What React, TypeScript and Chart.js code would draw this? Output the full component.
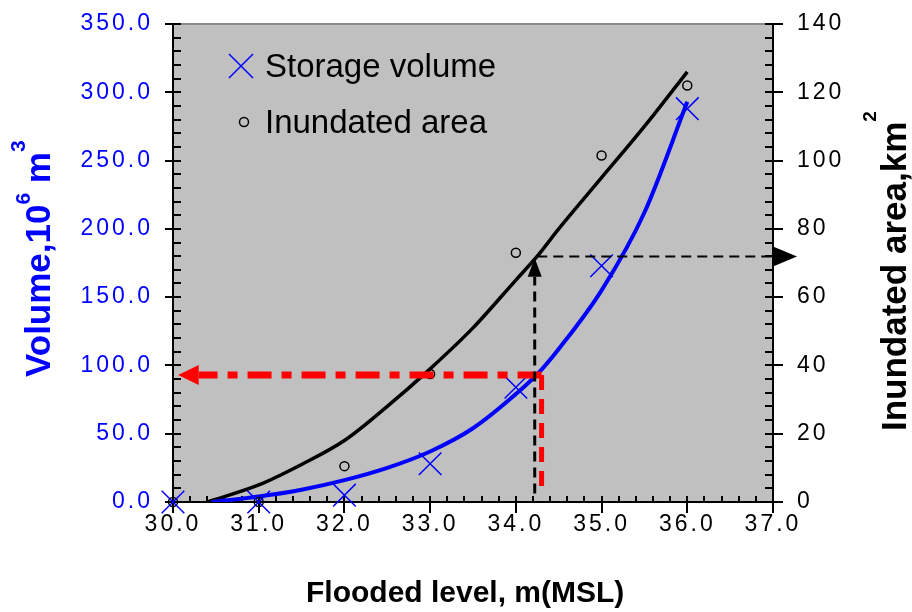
import React, { useEffect, useRef } from 'react';
import { Chart, registerables } from 'chart.js';

Chart.register(...registerables);

const FONT = '"Liberation Sans", Arial, sans-serif';

// Observed points
const levels = [30, 31, 32, 33, 34, 35, 36];
const storageVolume = [0, 0, 5, 28, 84, 173, 288];
const inundatedArea = [0, 0, 10.5, 37.5, 73, 101.5, 122];

// Fitted curves
const volumeFitLevels = [30.45, 31, 31.5, 32, 32.5, 33, 33.5, 34, 34.3, 34.5, 35, 35.5, 36];
const volumeFit = [0, 4, 9, 16, 25, 37, 54, 79, 97, 112, 155, 212, 293];
const areaFitLevels = [30.4, 31, 31.5, 32, 32.5, 33, 33.5, 34, 34.25, 34.5, 35, 35.5, 36];
const areaFit = [0, 5, 11, 18, 28, 39, 51, 65, 72, 80, 95, 110, 126];

// Reading guides
const redGuideLevels = [30.3, 34.3];
const redGuideVolume = 93;
const redDropLevel = 34.3;
const redDropVolumes = [93, 11];
const blackRiseLevel = 34.22;
const blackRiseAreas = [2.5, 66];
const blackRiseTip = 71.5;
const blackGuideLevels = [34.25, 37];
const blackGuideArea = 71.9;
const redArrowTip = 30.06;
const rightArrowTip = 37.28;

// Axis ranges / ticks
const levelMin = 30, levelMax = 37, levelStep = 1, levelMinor = 0.2;
const volumeMin = 0, volumeMax = 350, volumeStep = 50, volumeMinor = 10;
const areaMin = 0, areaMax = 140, areaStep = 20, areaMinor = 4;

const BLUE = '#0000ff';
const RED = '#ff0000';

const pts = (xs: number[], ys: number[]) => xs.map((x, i) => ({ x, y: ys[i] }));

function drawRich(ctx: CanvasRenderingContext2D, parts: { t: string; sup?: boolean; raise?: number }[], base: number, sup: number) {
  let cx = 0;
  for (const p of parts) {
    ctx.font = `bold ${p.sup ? sup : base}px ${FONT}`;
    ctx.fillText(p.t, cx, p.sup ? -(p.raise || 0) : 0);
    cx += ctx.measureText(p.t).width;
  }
}

const decor = {
  id: 'decor',
  beforeDraw(chart: any) {
    const { ctx, chartArea: a } = chart;
    ctx.save();
    ctx.fillStyle = '#ffffff';
    ctx.fillRect(0, 0, chart.width, chart.height);
    ctx.fillStyle = '#c0c0c0';
    ctx.fillRect(a.left, a.top, a.right - a.left, a.bottom - a.top);
    ctx.restore();
    (ctx as any).letterSpacing = '3px';
  },
  beforeDatasetsDraw(chart: any) {
    const { ctx, chartArea: a, scales } = chart;
    (ctx as any).letterSpacing = '0px';
    const x = scales.x, y = scales.y, y1 = scales.y1;
    ctx.save();
    ctx.strokeStyle = '#8a8a8a';
    ctx.lineWidth = 2;
    ctx.beginPath();
    ctx.moveTo(a.left, a.top);
    ctx.lineTo(a.right, a.top);
    ctx.stroke();
    ctx.strokeStyle = '#000';
    ctx.lineWidth = 2;
    ctx.beginPath();
    ctx.moveTo(a.left, a.top);
    ctx.lineTo(a.left, a.bottom);
    ctx.lineTo(a.right, a.bottom);
    ctx.moveTo(a.right, a.top);
    ctx.lineTo(a.right, a.bottom);
    ctx.stroke();
    ctx.beginPath();
    for (let v = volumeMin; v <= volumeMax + 1e-6; v += volumeMinor) {
      const py = Math.round(y.getPixelForValue(v));
      const major = Math.abs(v % volumeStep) < 1e-6;
      ctx.moveTo(a.left - (major ? 8 : 0), py);
      ctx.lineTo(a.left + 8, py);
    }
    for (let v = areaMin; v <= areaMax + 1e-6; v += areaMinor) {
      const py = Math.round(y1.getPixelForValue(v));
      const major = Math.abs(v % areaStep) < 1e-6;
      ctx.moveTo(a.right - 8, py);
      ctx.lineTo(a.right + (major ? 10 : 0), py);
    }
    for (let i = 0; i <= Math.round((levelMax - levelMin) / levelMinor); i++) {
      const v = levelMin + i * levelMinor;
      const px = Math.round(x.getPixelForValue(v));
      const major = i % Math.round(levelStep / levelMinor) === 0;
      ctx.moveTo(px, a.bottom - 6);
      ctx.lineTo(px, a.bottom + (major ? 11 : 0));
    }
    ctx.stroke();
    ctx.restore();
  },
  afterDatasetsDraw(chart: any) {
    const { ctx, scales } = chart;
    const x = scales.x, y = scales.y, y1 = scales.y1;
    ctx.save();
    const ry = y.getPixelForValue(redGuideVolume);
    const rTip = x.getPixelForValue(redArrowTip);
    const rBase = x.getPixelForValue(redGuideLevels[0]);
    ctx.fillStyle = RED;
    ctx.beginPath();
    ctx.moveTo(rTip, ry);
    ctx.lineTo(rBase, ry - 10);
    ctx.lineTo(rBase, ry + 10);
    ctx.closePath();
    ctx.fill();
    const bx = x.getPixelForValue(blackRiseLevel);
    const bTip = y1.getPixelForValue(blackRiseTip);
    const bBase = y1.getPixelForValue(blackRiseAreas[1]);
    ctx.fillStyle = '#000';
    ctx.beginPath();
    ctx.moveTo(bx, bTip);
    ctx.lineTo(bx - 7, bBase);
    ctx.lineTo(bx + 7, bBase);
    ctx.closePath();
    ctx.fill();
    const hy = y1.getPixelForValue(blackGuideArea);
    const hTip = x.getPixelForValue(rightArrowTip);
    const hBase = x.getPixelForValue(blackGuideLevels[1]);
    ctx.beginPath();
    ctx.moveTo(hTip, hy);
    ctx.lineTo(hBase, hy - 10);
    ctx.lineTo(hBase, hy + 10);
    ctx.closePath();
    ctx.fill();
    ctx.restore();
  },
  afterDraw(chart: any) {
    const { ctx } = chart;
    ctx.save();
    (ctx as any).letterSpacing = '0px';
    ctx.strokeStyle = BLUE;
    ctx.lineWidth = 1.5;
    ctx.beginPath();
    ctx.moveTo(229, 54); ctx.lineTo(253, 78);
    ctx.moveTo(253, 54); ctx.lineTo(229, 78);
    ctx.stroke();
    ctx.strokeStyle = '#000';
    ctx.beginPath();
    ctx.arc(244, 122, 4.5, 0, Math.PI * 2);
    ctx.stroke();
    ctx.fillStyle = '#000';
    ctx.font = `33px ${FONT}`;
    ctx.textBaseline = 'alphabetic';
    ctx.textAlign = 'left';
    ctx.fillText('Storage volume', 265, 77);
    ctx.fillText('Inundated area', 265, 133);

    ctx.font = `bold 30px ${FONT}`;
    ctx.fillText('Flooded level, m(MSL)', 306, 602);

    ctx.save();
    ctx.translate(50, 377);
    ctx.rotate(-Math.PI / 2);
    ctx.fillStyle = BLUE;
    drawRich(ctx, [
      { t: 'Volume,10' },
      { t: '6', sup: true, raise: 20 },
      { t: ' m' },
      { t: '3', sup: true, raise: 25 },
    ], 35, 21);
    ctx.restore();

    ctx.save();
    ctx.translate(906, 431);
    ctx.rotate(-Math.PI / 2);
    ctx.fillStyle = '#000';
    drawRich(ctx, [
      { t: 'Inundated area,km' },
      { t: '2', sup: true, raise: 30 },
    ], 35, 19);
    ctx.restore();
    ctx.restore();
  },
};

export default function App() {
  const ref = useRef<HTMLCanvasElement>(null);
  useEffect(() => {
    const canvas = ref.current!;
    const chart = new Chart(canvas, {
      type: 'line',
      data: {
        datasets: [
          {
            label: 'guide-black-rise',
            data: [{ x: blackRiseLevel, y: blackRiseAreas[0] }, { x: blackRiseLevel, y: blackRiseAreas[1] }],
            yAxisID: 'y1',
            borderColor: '#000',
            borderWidth: 3,
            borderDash: [10, 6],
            pointRadius: 0,
          },
          {
            label: 'guide-black-across',
            data: blackGuideLevels.map((l) => ({ x: l, y: blackGuideArea })),
            yAxisID: 'y1',
            borderColor: '#000',
            borderWidth: 2,
            borderDash: [10, 6],
            pointRadius: 0,
          },
          {
            label: 'guide-red-across',
            data: redGuideLevels.map((l) => ({ x: l, y: redGuideVolume })).reverse(),
            yAxisID: 'y',
            borderColor: RED,
            borderWidth: 7,
            borderDash: [24, 10, 10, 10],
            pointRadius: 0,
          },
          {
            label: 'guide-red-drop',
            data: redDropVolumes.map((v) => ({ x: redDropLevel, y: v })),
            yAxisID: 'y',
            borderColor: RED,
            borderWidth: 5,
            borderDash: [15, 9],
            pointRadius: 0,
          },
          {
            label: 'Storage volume',
            data: pts(levels, storageVolume),
            yAxisID: 'y',
            showLine: false,
            clip: false,
            pointStyle: 'crossRot',
            pointRadius: 16,
            pointBorderWidth: 1.5,
            pointBorderColor: BLUE,
            borderColor: BLUE,
          },
          {
            label: 'Inundated area',
            data: pts(levels, inundatedArea),
            yAxisID: 'y1',
            showLine: false,
            clip: false,
            pointStyle: 'circle',
            pointRadius: 4.5,
            pointBorderWidth: 1.5,
            pointBorderColor: '#000',
            pointBackgroundColor: 'rgba(0,0,0,0)',
            borderColor: '#000',
          },
          {
            label: 'Volume curve',
            data: pts(volumeFitLevels, volumeFit),
            yAxisID: 'y',
            borderColor: BLUE,
            borderWidth: 4,
            pointRadius: 0,
            cubicInterpolationMode: 'monotone',
          },
          {
            label: 'Area curve',
            data: pts(areaFitLevels, areaFit),
            yAxisID: 'y1',
            borderColor: '#000',
            borderWidth: 3.5,
            pointRadius: 0,
            cubicInterpolationMode: 'monotone',
          },
        ] as any,
      },
      options: {
        animation: false,
        responsive: false,
        events: [],
        layout: { autoPadding: false, padding: { top: 24, left: 0, right: 0, bottom: 0 } },
        plugins: { legend: { display: false }, tooltip: { enabled: false } },
        elements: { line: { fill: false } },
        scales: {
          x: {
            type: 'linear',
            min: levelMin,
            max: levelMax,
            afterFit: (s: any) => { s.height = 110; s.paddingLeft = 0; s.paddingRight = 0; },
            grid: { display: false, drawTicks: false },
            border: { display: false },
            ticks: {
              stepSize: levelStep,
              autoSkip: false,
              maxRotation: 0,
              padding: 9,
              color: '#000',
              font: { family: FONT, size: 23 },
              callback: (v: any) => Number(v).toFixed(1),
            },
          },
          y: {
            type: 'linear',
            position: 'left',
            min: volumeMin,
            max: volumeMax,
            afterFit: (s: any) => { s.width = 173; s.paddingTop = 0; s.paddingBottom = 0; },
            grid: { display: false, drawTicks: false },
            border: { display: false },
            ticks: {
              stepSize: volumeStep,
              autoSkip: false,
              padding: 20,
              color: BLUE,
              font: { family: FONT, size: 23 },
              callback: (v: any) => Number(v).toFixed(1),
            },
          },
          y1: {
            type: 'linear',
            position: 'right',
            min: areaMin,
            max: areaMax,
            afterFit: (s: any) => { s.width = 139; s.paddingTop = 0; s.paddingBottom = 0; },
            grid: { display: false, drawTicks: false },
            border: { display: false },
            ticks: {
              stepSize: areaStep,
              autoSkip: false,
              padding: 24,
              color: '#000',
              font: { family: FONT, size: 23 },
              callback: (v: any) => String(v),
            },
          },
        },
      } as any,
      plugins: [decor as any],
    });
    return () => chart.destroy();
  }, []);
  return (
    <div style={{ position: 'fixed', left: 0, top: 0, width: 912, height: 612, background: '#fff' }}>
      <canvas ref={ref} width={912} height={612} style={{ display: 'block', width: 912, height: 612 }} />
    </div>
  );
}
